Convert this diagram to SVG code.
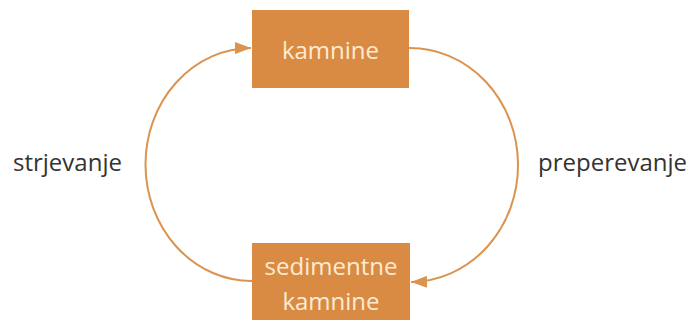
<svg xmlns="http://www.w3.org/2000/svg" width="692" height="320" viewBox="0 0 692 320">
<style>
.box{fill:#D98B44}
.bt{font-family:"Open Sans","Liberation Sans",sans-serif;font-size:24px;fill:#FCEBD2;text-anchor:middle}
.lbl{font-family:"Open Sans","Liberation Sans",sans-serif;font-size:24px;fill:#333333}
.arc{fill:none;stroke:#DB9450;stroke-width:2}
</style>
<defs>
<marker id="ah" markerWidth="16" markerHeight="12" refX="16" refY="6" orient="auto" markerUnits="userSpaceOnUse">
<path d="M0,0 L16,6 L0,12 Z" fill="#DB9450"/>
</marker>
</defs>
<rect width="692" height="320" fill="#ffffff"/>
<g id="connectors">
<path class="arc" d="M252,281 A106,116.5 0 0 1 251,48" marker-end="url(#ah)"/>
<path class="arc" d="M409,48 A108,117 0 0 1 411,282" marker-end="url(#ah)"/>
</g>
<g id="kamnine">
<rect class="box" x="252" y="10" width="157" height="78"/>
<text class="bt" x="330.5" y="59">kamnine</text>
</g>
<g id="sedimentne">
<rect class="box" x="252" y="243" width="158" height="80"/>
<text class="bt" x="331" y="275">sedimentne</text>
<text class="bt" x="331" y="310">kamnine</text>
</g>
<g id="label-strjevanje">
<text class="lbl" x="13" y="171">strjevanje</text>
</g>
<g id="label-preperevanje">
<text class="lbl" x="538" y="171">preperevanje</text>
</g>
</svg>
